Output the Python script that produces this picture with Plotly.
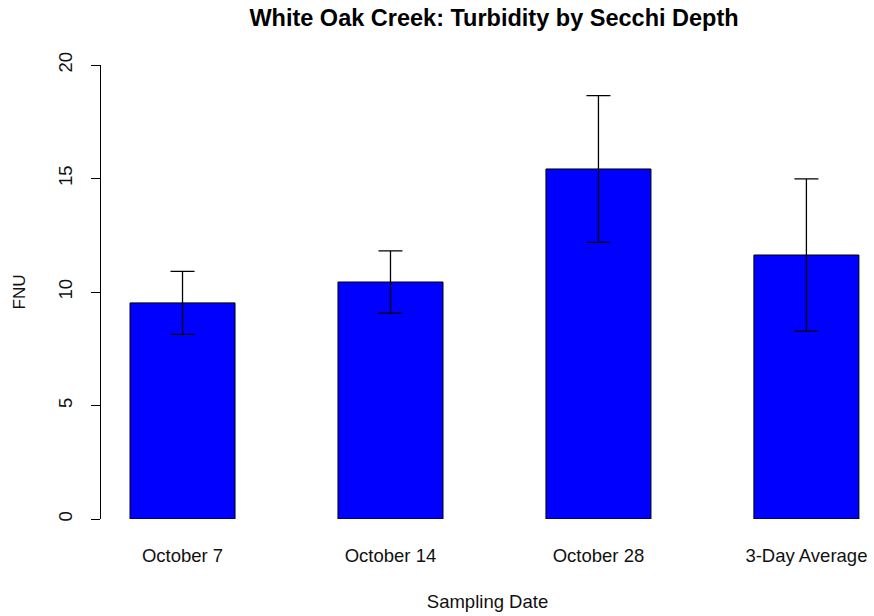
import plotly.graph_objects as go

categories = ["October 7", "October 14", "October 28", "3-Day Average"]
fnu_values = [9.52, 10.44, 15.42, 11.63]
fnu_errors = [1.39, 1.37, 3.23, 3.35]
y_ticks = [0, 5, 10, 15, 20]

FONT = "Liberation Sans, Arial, sans-serif"

fig = go.Figure(
    go.Bar(
        x=categories,
        y=fnu_values,
        marker=dict(color="#0000FF", line=dict(color="#000000", width=1)),
        error_y=dict(type="data", array=fnu_errors, visible=True,
                     color="#000000", thickness=1.3, width=12),
    )
)

fig.update_layout(
    width=874, height=616,
    margin=dict(l=101, r=0, t=65, b=97),
    paper_bgcolor="white", plot_bgcolor="white",
    bargap=0.495,
    showlegend=False,
    font=dict(family=FONT, color="#111111"),
    title=dict(text="<b>White Oak Creek: Turbidity by Secchi Depth</b>",
               x=494 / 874, xanchor="center", y=1 - 18 / 616, yanchor="middle",
               font=dict(size=23.5, family=FONT, color="#000000")),
)

fig.update_xaxes(
    range=[-0.392, 3.325],
    showline=False, showgrid=False, zeroline=False,
    ticks="", tickfont=dict(size=18.5, family=FONT, color="#111111"),
    ticklabelstandoff=23,
    title=dict(text="Sampling Date", font=dict(size=18.5, family=FONT, color="#111111"),
               standoff=30),
)

fig.update_yaxes(
    range=[0, 20],
    tickvals=y_ticks, ticktext=[str(v) for v in y_ticks],
    showline=True, linecolor="#000000", linewidth=1,
    showgrid=False, zeroline=False,
    ticks="outside", ticklen=9, tickcolor="#000000", tickwidth=1,
    tickangle=-90, tickfont=dict(size=18.5, family=FONT, color="#111111"),
    ticklabelstandoff=12,
    title=dict(text="FNU", font=dict(size=17, family=FONT, color="#111111"),
               standoff=24),
)

fig.write_html("out.html")
